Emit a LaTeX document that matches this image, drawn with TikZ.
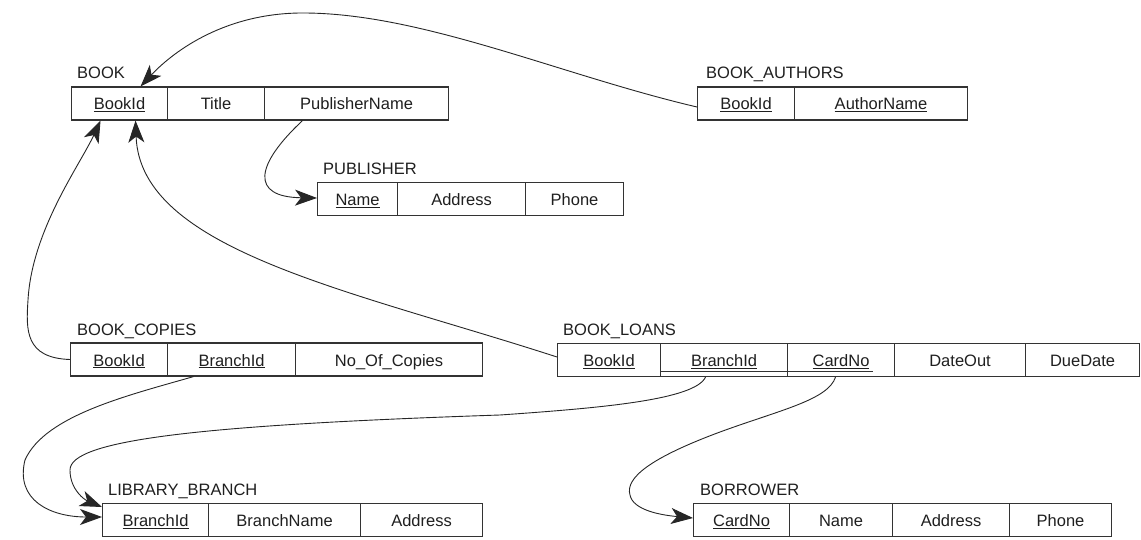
\documentclass[tikz,border=0pt]{standalone}
\usepackage{fontspec}
\setmainfont{Liberation Sans}
\usetikzlibrary{arrows.meta}
\begin{document}
\begin{tikzpicture}[x=1pt,y=-1pt,
  cell/.style={draw=black!80, line width=1.1pt, minimum height=33pt, inner sep=0pt,
    anchor=west, text height=14pt, text depth=1pt, text=black!88,
    font=\fontsize{16.5}{18}\selectfont},
  tlabel/.style={anchor=base west, inner sep=0pt, text=black!88,
    font=\fontsize{16.5}{18}\selectfont},
  link/.style={draw=black!85, line width=0.9pt,
    -{Stealth[length=22pt,width=16pt,inset=6pt]}}]
\useasboundingbox (0,0) rectangle (1141,540);

% BOOK
\node[tlabel] (bk-lbl) at (77,79) {BOOK};
\node[cell,minimum width=96pt]  (bk-id)    at (71,103.5)  {\underline{BookId}};
\node[cell,minimum width=97pt]  (bk-title) at (167,103.5) {Title};
\node[cell,minimum width=184pt] (bk-pub)   at (264,103.5) {PublisherName};

% BOOK_AUTHORS
\node[tlabel] (ba-lbl) at (706,79) {BOOK\_AUTHORS};
\node[cell,minimum width=97pt]  (ba-id)   at (697,103.5) {\underline{BookId}};
\node[cell,minimum width=173pt] (ba-name) at (794,103.5) {\underline{AuthorName}};

% PUBLISHER
\node[tlabel] (pub-lbl) at (323,174.5) {PUBLISHER};
\node[cell,minimum width=80pt]  (pub-name)  at (317,199) {\underline{Name}};
\node[cell,minimum width=128pt] (pub-addr)  at (397,199) {Address};
\node[cell,minimum width=98pt]  (pub-phone) at (525,199) {Phone};

% BOOK_COPIES
\node[tlabel] (bc-lbl) at (77,335) {BOOK\_COPIES};
\node[cell,minimum width=97pt]  (bc-id) at (70,359.5)  {\underline{BookId}};
\node[cell,minimum width=128pt] (bc-br) at (167,359.5) {\underline{BranchId}};
\node[cell,minimum width=187pt] (bc-no) at (295,359.5) {No\_Of\_Copies};

% BOOK_LOANS
\node[tlabel] (bl-lbl) at (563,335.5) {BOOK\_LOANS};
\node[cell,minimum width=103pt] (bl-id)  at (557,360)  {\underline{BookId}};
\node[cell,minimum width=127pt] (bl-br)  at (660,360)  {\underline{BranchId}};
\node[cell,minimum width=107pt] (bl-cn)  at (787,360)  {\underline{CardNo}};
\node[cell,minimum width=131pt] (bl-out) at (894,360)  {DateOut};
\node[cell,minimum width=114pt] (bl-due) at (1025,360) {DueDate};
\draw[draw=black!80, line width=0.8pt] ([yshift=5.5pt]bl-br.south west) -- ([yshift=5.5pt,xshift=-22pt]bl-cn.south east);

% LIBRARY_BRANCH
\node[tlabel] (lb-lbl) at (108,495.5) {LIBRARY\_BRANCH};
\node[cell,minimum width=106pt] (lb-id)   at (102,520) {\underline{BranchId}};
\node[cell,minimum width=152pt] (lb-name) at (208,520) {BranchName};
\node[cell,minimum width=122pt] (lb-addr) at (360,520) {Address};

% BORROWER
\node[tlabel] (br-lbl) at (700,495.5) {BORROWER};
\node[cell,minimum width=96pt]  (br-cn)    at (693,520)  {\underline{CardNo}};
\node[cell,minimum width=103pt] (br-name)  at (789,520)  {Name};
\node[cell,minimum width=117pt] (br-addr)  at (892,520)  {Address};
\node[cell,minimum width=102pt] (br-phone) at (1009,520) {Phone};

% connectors
\draw[link] ([yshift=-3.5pt]ba-id.west) .. controls (560,75) and (420,12) .. (300,13)
  .. controls (220,14) and (170,55) .. ([xshift=21pt]bk-id.north);
\draw[link] ([xshift=-54pt]bk-pub.south) .. controls (255,165) and (250,197) .. ([yshift=1pt]pub-name.west);
\draw[link] (bc-id.west) .. controls (25,358) and (26,330) .. (28,300)
  .. controls (32,230) and (80,165) .. ([xshift=-19pt]bk-id.south);
\draw[link] ([yshift=3pt]bl-id.west) .. controls (350,290) and (140,250) .. ([xshift=16pt]bk-id.south);
\draw[link] ([xshift=-38pt]bc-br.south) .. controls (130,395) and (45,415) .. (25,460)
  .. controls (15,500) and (50,517) .. ([yshift=3pt]lb-id.west);
\draw[link] ([xshift=-18.5pt]bl-br.south) .. controls (695,400) and (600,408) .. (500,415)
  .. controls (200,425) and (70,440) .. (70,470)
  .. controls (70,490) and (85,500) .. ([yshift=13pt]lb-id.west);
\draw[link] ([xshift=-5.5pt]bl-cn.south) .. controls (828,400) and (780,410) .. (720,432)
  .. controls (650,458) and (625,478) .. (630,495)
  .. controls (633,510) and (660,515) .. ([yshift=2pt]br-cn.west);
\end{tikzpicture}
\end{document}
